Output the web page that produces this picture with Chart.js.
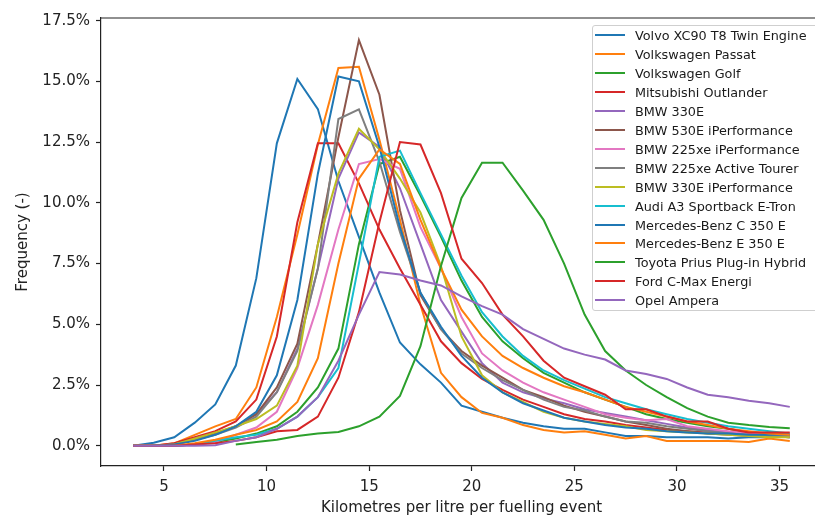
<!DOCTYPE html>
<html>
<head>
<meta charset="utf-8">
<script src="https://cdn.jsdelivr.net/npm/chart.js@4.4.0/dist/chart.umd.min.js"></script>
<style>
html,body{margin:0;padding:0;background:#fff;overflow:hidden;width:815px;height:517px;}
#wrap{position:absolute;left:0;top:0;width:830px;height:517px;}
#legend{position:absolute;left:592px;top:25px;width:240px;height:286px;border:1px solid #cfcfcf;border-radius:3px;background:rgba(255,255,255,0.85);font-family:'DejaVu Sans',sans-serif;font-size:12.8px;color:#1a1a1a;box-sizing:border-box;}
.row{position:absolute;left:0;height:18px;display:flex;align-items:center;white-space:nowrap;}
.sw{width:30px;height:2px;margin-left:2px;margin-right:10px;}
</style>
</head>
<body>
<div id="wrap"><canvas id="c"></canvas></div>
<div id="legend"></div>
<script>
// ---- data (km per litre bins, frequency in %) ----
const xValues = [3.5,4.5,5.5,6.5,7.5,8.5,9.5,10.5,11.5,12.5,13.5,14.5,15.5,16.5,17.5,18.5,19.5,20.5,21.5,22.5,23.5,24.5,25.5,26.5,27.5,28.5,29.5,30.5,31.5,32.5,33.5,34.5,35.5];

const seriesNames = ["Volvo XC90 T8 Twin Engine","Volkswagen Passat","Volkswagen Golf","Mitsubishi Outlander","BMW 330E","BMW 530E iPerformance","BMW 225xe iPerformance","BMW 225xe Active Tourer","BMW 330E iPerformance","Audi A3 Sportback E-Tron","Mercedes-Benz C 350 E","Mercedes-Benz E 350 E","Toyota Prius Plug-in Hybrid","Ford C-Max Energi","Opel Ampera"];

const volvoXC90   = [0,0.12,0.35,0.95,1.7,3.3,6.9,12.45,15.1,13.86,10.9,8.6,6.3,4.25,3.35,2.6,1.65,1.4,1.15,0.95,0.8,0.7,0.7,0.55,0.4,0.4,0.35,0.35,0.35,0.3,0.35,0.35,0.4];
const vwPassat    = [0,0,0.1,0.45,0.8,1.1,2.4,5.3,8.7,12.4,15.55,15.6,12.6,9.3,5.8,3.0,2.0,1.35,1.15,0.85,0.65,0.55,0.6,0.45,0.3,0.4,0.2,0.2,0.2,0.2,0.15,0.3,0.2];
const vwGolf      = [0,0,0,0.05,0.15,0.3,0.5,0.8,1.4,2.4,4.0,8.3,11.6,11.9,10.3,8.6,6.8,5.3,4.3,3.6,3.0,2.6,2.2,1.9,1.6,1.3,1.1,0.95,0.8,0.7,0.55,0.5,0.45];
const mitsubishi  = [0,0,0.1,0.35,0.6,1.0,1.9,4.5,9.2,12.45,12.45,10.8,8.9,7.3,5.8,4.3,3.4,2.75,2.3,1.9,1.6,1.3,1.1,1.0,0.85,0.75,0.65,0.6,0.55,0.5,0.45,0.45,0.4];
const bmw330e     = [0,0,0.05,0.25,0.5,0.8,1.3,2.2,4.0,7.3,11.0,12.9,12.3,10.6,8.3,6.0,4.7,3.4,2.6,2.2,1.95,1.75,1.5,1.35,1.2,1.05,0.9,0.75,0.65,0.55,0.45,0.4,0.35];
const bmw530e     = [0,0,0.05,0.25,0.5,0.8,1.3,2.4,4.2,8.3,12.7,16.7,14.45,9.7,6.2,4.8,3.9,3.3,2.8,2.3,2.0,1.65,1.4,1.2,1.0,0.85,0.7,0.6,0.5,0.45,0.4,0.4,0.35];
const bmw225xe    = [0,0,0,0.05,0.15,0.45,0.75,1.4,3.2,5.8,8.9,11.6,11.8,11.4,9.0,7.3,5.3,3.8,3.1,2.6,2.2,1.9,1.6,1.3,1.15,1.05,1.1,0.8,0.7,0.6,0.5,0.45,0.4];
const bmw225xeAT  = [0,0,0.05,0.25,0.45,0.75,1.2,2.2,3.9,7.3,13.45,13.85,11.7,8.8,6.3,4.8,3.8,3.2,2.7,2.3,1.9,1.6,1.45,1.2,1.0,0.95,0.8,0.7,0.6,0.5,0.45,0.4,0.35];
const bmw330eIP   = [0,0,0.05,0.3,0.55,0.8,1.1,1.65,3.3,8.3,11.2,13.05,12.2,11.0,9.6,7.4,4.5,2.9,2.2,1.8,1.4,1.15,1.0,0.9,0.8,0.65,0.6,0.55,0.5,0.45,0.4,0.35,0.35];
const audiA3      = [0,0,0,0.05,0.2,0.35,0.45,0.7,1.2,2.0,3.2,7.5,11.9,12.15,10.4,8.7,7.0,5.5,4.5,3.7,3.1,2.7,2.35,2.0,1.75,1.5,1.3,1.1,0.95,0.8,0.7,0.6,0.5];
const mercC350e   = [0,0,0.05,0.2,0.45,0.8,1.4,2.9,6.0,11.2,15.2,15.0,12.3,9.0,6.3,4.9,3.7,2.8,2.2,1.75,1.45,1.15,1.0,0.85,0.75,0.7,0.6,0.55,0.5,0.5,0.45,0.45,0.45];
const mercE350e   = [0,0,0,0.1,0.25,0.45,0.65,1.0,1.8,3.6,7.5,11.0,12.2,11.6,9.3,7.3,5.6,4.5,3.7,3.2,2.8,2.45,2.2,1.9,1.6,1.4,1.2,1.0,0.85,0.7,0.6,0.5,0.45];
const toyotaPrius = [null,null,null,null,null,0.05,0.15,0.25,0.4,0.5,0.57,0.8,1.2,2.05,4.1,7.4,10.2,11.65,11.65,10.5,9.3,7.5,5.4,3.9,3.1,2.5,2.0,1.55,1.2,0.95,0.85,0.77,0.72];
const fordCMax    = [0,0,0,0.05,0.1,0.2,0.35,0.6,0.65,1.2,2.8,5.5,9.2,12.5,12.4,10.4,7.7,6.7,5.4,4.5,3.5,2.8,2.45,2.1,1.5,1.5,1.2,1.0,1.0,0.7,0.55,0.55,0.55];
const opelAmpera  = [0,0,0,0,0.02,0.2,0.35,0.7,1.2,2.0,3.5,5.4,7.15,7.05,6.8,6.6,6.15,5.75,5.4,4.8,4.4,4.0,3.75,3.55,3.1,2.95,2.75,2.4,2.1,2.0,1.85,1.75,1.6];

const allSeries = [volvoXC90,vwPassat,vwGolf,mitsubishi,bmw330e,bmw530e,bmw225xe,bmw225xeAT,bmw330eIP,audiA3,mercC350e,mercE350e,toyotaPrius,fordCMax,opelAmpera];

const xTickValues = [5,10,15,20,25,30,35];
const yTickValues = [0,2.5,5,7.5,10,12.5,15,17.5];

// ---- styles ----
const palette = ['#1f77b4','#ff7f0e','#2ca02c','#d62728','#9467bd','#8c564b','#e377c2','#7f7f7f','#bcbd22','#17becf'];
const FONT = "'DejaVu Sans', sans-serif";

const datasets = allSeries.map((vals, i) => ({
  label: seriesNames[i],
  data: xValues.map((x, k) => ({x: x, y: vals[k]})),
  borderColor: palette[i % palette.length],
  backgroundColor: palette[i % palette.length],
  borderWidth: 2,
  pointRadius: 0,
  tension: 0,
  fill: false,
  order: allSeries.length - i
}));

const frame = {
  id: 'frame',
  afterDraw(chart) {
    const {ctx, chartArea: a} = chart;
    ctx.save();
    ctx.strokeStyle = '#222';
    ctx.lineWidth = 1.2;
    ctx.beginPath();
    ctx.moveTo(a.left, a.top);
    ctx.lineTo(a.right, a.top);
    ctx.lineTo(a.right, a.bottom);
    ctx.stroke();
    ctx.restore();
  }
};

new Chart(document.getElementById('c'), {
  type: 'line',
  data: {datasets},
  options: {
    responsive: true,
    maintainAspectRatio: false,
    animation: false,
    events: [],
    layout: {padding: {top: 18, right: 8, left: 0, bottom: 0}},
    plugins: {legend: {display: false}, tooltip: {enabled: false}},
    scales: {
      x: {
        type: 'linear',
        min: 1.93, max: 37.07,
        afterBuildTicks: s => { s.ticks = xTickValues.map(v => ({value: v})); },
        afterFit: s => { s.height = 51; },
        ticks: {font: {family: FONT, size: 15}, color: '#222', padding: 7, maxRotation: 0, callback: v => String(v)},
        grid: {display: true, drawOnChartArea: false, drawTicks: true, tickLength: 5, tickColor: '#222', tickWidth: 1.2},
        border: {display: true, color: '#222', width: 1.2},
        title: {display: true, text: 'Kilometres per litre per fuelling event', font: {family: FONT, size: 15}, color: '#222', padding: {top: 0, bottom: 0}}
      },
      y: {
        type: 'linear',
        min: -0.834, max: 17.61,
        afterBuildTicks: s => { s.ticks = yTickValues.map(v => ({value: v})); },
        afterFit: s => { s.width = 101; },
        ticks: {font: {family: FONT, size: 15}, color: '#222', padding: 6, callback: v => v.toFixed(1) + '%'},
        grid: {display: true, drawOnChartArea: false, drawTicks: true, tickLength: 5, tickColor: '#222', tickWidth: 1.2},
        border: {display: true, color: '#222', width: 1.2},
        title: {display: true, text: 'Frequency (-)', font: {family: FONT, size: 15}, color: '#222', padding: {top: 14, bottom: 0}}
      }
    }
  },
  plugins: [frame]
});

// ---- legend (HTML overlay inside the plot, upper right) ----
const leg = document.getElementById('legend');
seriesNames.forEach((name, i) => {
  const r = document.createElement('div');
  r.className = 'row';
  r.style.top = Math.round(18.95 * i) + 'px';
  const sw = document.createElement('span');
  sw.className = 'sw';
  sw.style.background = palette[i % palette.length];
  const t = document.createElement('span');
  t.textContent = name;
  r.appendChild(sw); r.appendChild(t);
  leg.appendChild(r);
});
</script>
</body>
</html>
